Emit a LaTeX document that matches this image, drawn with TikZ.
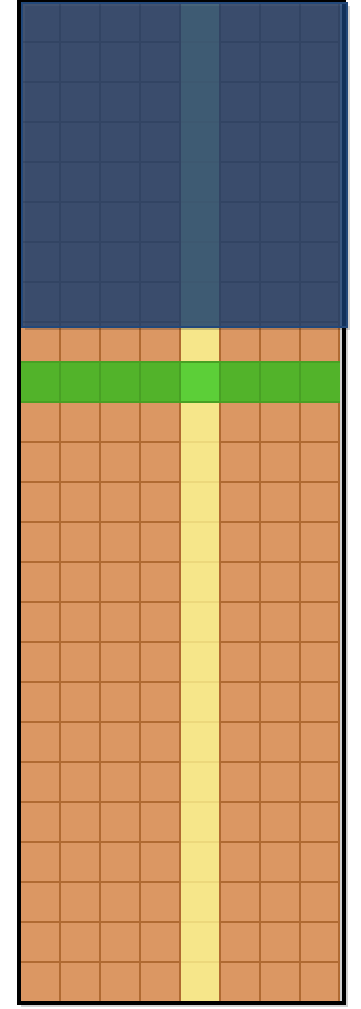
\documentclass[tikz,border=0pt]{standalone}
\definecolor{cellorange}{RGB}{219,151,99}
\definecolor{gridline}{RGB}{176,106,50}
\definecolor{lane}{RGB}{246,230,138}
\definecolor{laneline}{RGB}{236,216,124}
\definecolor{rowgreen}{RGB}{82,179,42}
\definecolor{rowgreenlight}{RGB}{92,207,56}
\definecolor{greenline}{RGB}{72,160,36}
\definecolor{overlayblue}{RGB}{24,64,116}
\definecolor{overlayedge}{RGB}{34,72,122}
\tikzset{
  gridstroke/.style={draw=gridline, line width=2pt},
  lanestroke/.style={draw=laneline, line width=1.2pt},
  greenstroke/.style={draw=greenline, line width=1.6pt},
  frame/.style={draw=black, line width=4pt},
  shade box/.style={fill=black, opacity=0.18},
  cover/.style={fill=overlayblue, fill opacity=0.78, draw=overlayedge, line width=1.4pt}
}
\begin{document}
\begin{tikzpicture}[x=1pt,y=-1pt]
\useasboundingbox (0,0) rectangle (360,1009);
% outer shadow
\fill[shade box] (21,4) rectangle (348,1007);
% base cells
\fill[cellorange] (20,2) rectangle (340,1002);
\fill[lane] (180,2) rectangle (220,1002);
% horizontal grid lines
\foreach \j in {1,...,24} {
  \draw[gridstroke] (20,{2+40*\j}) -- (180,{2+40*\j});
  \draw[gridstroke] (220,{2+40*\j}) -- (340,{2+40*\j});
  \draw[lanestroke] (181,{2+40*\j}) -- (219,{2+40*\j});
}
% vertical grid lines
\foreach \i in {1,...,7} {
  \draw[gridstroke] ({20+40*\i},2) -- ({20+40*\i},1002);
}
\draw[gridstroke] (339,2) -- (339,1002);
% green row
\fill[rowgreen] (20,362) rectangle (340,402);
\fill[rowgreenlight] (180,362) rectangle (220,402);
\foreach \i in {1,...,7} {
  \draw[greenstroke] ({20+40*\i},362) -- ({20+40*\i},402);
}
\draw[greenstroke] (20,362) -- (340,362);
\draw[greenstroke] (20,402) -- (340,402);
% frame
\draw[frame] (18.5,0.5) rectangle (344,1002.5);
% overlay shadow
\fill[shade box] (25,6) rectangle (350,330);
% overlay
\filldraw[cover] (22,3) rectangle (347,327);
\end{tikzpicture}
\end{document}
